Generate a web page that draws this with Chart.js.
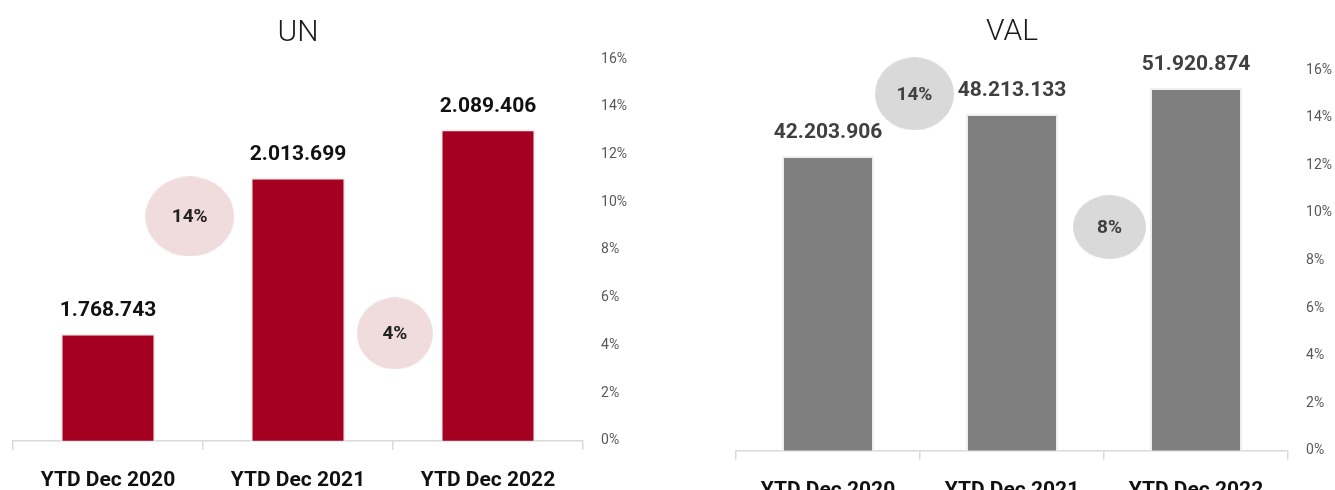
<!DOCTYPE html>
<html>
<head>
<meta charset="utf-8">
<script src="https://cdn.jsdelivr.net/npm/chart.js@4.4.0/dist/chart.umd.min.js"></script>
<style>
  html, body { margin: 0; padding: 0; background: #fff; overflow: hidden; }
  .box { position: absolute; top: 0; }
  #unBox { left: 0; width: 650px; height: 515px; }
  #valBox { left: 670px; width: 682px; height: 527px; }
</style>
</head>
<body>
<div class="box" id="unBox"><canvas id="unChart"></canvas></div>
<div class="box" id="valBox"><canvas id="valChart"></canvas></div>
<script>
const categories = ["YTD Dec 2020", "YTD Dec 2021", "YTD Dec 2022"];

const unValues = [1768743, 2013699, 2089406];
const valValues = [42203906, 48213133, 51920874];

// growth bubbles: label, position between bars, level on the % axis
const unGrowth = ["14%", "4%"];
const unGrowthX = [0.43, 1.51];
const unGrowthY = [9.4, 4.5];
const valGrowth = ["14%", "8%"];
const valGrowthX = [0.47, 1.53];
const valGrowthY = [15.0, 9.4];

const pctTicks = [0, 2, 4, 6, 8, 10, 12, 14, 16];

const FONT = "Roboto, 'Open Sans', sans-serif";

function fmt(n) {
  return n.toString().replace(/\B(?=(\d{3})+(?!\d))/g, ".");
}

function ellipse(w, h, color) {
  const c = document.createElement("canvas");
  c.width = w;
  c.height = h;
  const g = c.getContext("2d");
  g.fillStyle = color;
  g.beginPath();
  g.ellipse(w / 2, h / 2, w / 2, h / 2, 0, 0, Math.PI * 2);
  g.fill();
  return c;
}

const labelPlugin = {
  id: "labels",
  afterDatasetsDraw(chart, args, opts) {
    const ctx = chart.ctx;
    ctx.save();
    ctx.textAlign = "center";
    ctx.textBaseline = "middle";
    // values above the bars
    const bars = chart.getDatasetMeta(0).data;
    ctx.font = "bold 21px " + FONT;
    ctx.fillStyle = opts.valueColor;
    bars.forEach((b, i) => {
      ctx.fillText(fmt(chart.data.datasets[0].data[i]), b.x, b.y - 23);
    });
    // text inside the bubbles
    const pts = chart.getDatasetMeta(1).data;
    ctx.font = "bold 19px " + FONT;
    ctx.fillStyle = opts.bubbleColor;
    pts.forEach((p, i) => {
      ctx.fillText(opts.growth[i], p.x, p.y + 1);
    });
    ctx.restore();
  }
};

function makeChart(id, title, values, growth, gx, gy, o) {
  return new Chart(document.getElementById(id), {
    data: {
      labels: categories,
      datasets: [
        {
          type: "bar",
          data: values,
          backgroundColor: o.barColor,
          borderColor: "#efefef",
          borderWidth: 2,
          grouped: false,
          barPercentage: 0.5,
          categoryPercentage: 1,
          yAxisID: "y",
          order: 2
        },
        {
          type: "bubble",
          data: gx.map((x, i) => ({ x: x, y: gy[i], r: 1 })),
          pointStyle: o.bubbles,
          xAxisID: "xb",
          yAxisID: "yp",
          clip: false,
          order: 1
        }
      ]
    },
    options: {
      responsive: true,
      maintainAspectRatio: false,
      animation: false,
      layout: { autoPadding: false, padding: o.padding },
      plugins: {
        legend: { display: false },
        tooltip: { enabled: false },
        title: {
          display: true,
          text: title,
          fullSize: false,
          color: "#1a1a1a",
          font: { family: FONT, size: 30, weight: "300" },
          padding: o.titlePadding
        },
        labels: {
          valueColor: o.valueColor,
          bubbleColor: o.bubbleText,
          growth: growth
        }
      },
      scales: {
        x: {
          type: "category",
          offset: true,
          border: { display: true, color: "#d9d9d9", width: 1.5 },
          grid: {
            offset: true,
            drawOnChartArea: false,
            drawTicks: true,
            tickLength: 9,
            color: "#d9d9d9",
            lineWidth: 1.5
          },
          ticks: {
            color: "#111",
            padding: 18,
            font: { family: FONT, size: 21, weight: "bold" }
          }
        },
        xb: {
          type: "linear",
          display: false,
          min: -0.5,
          max: 2.5
        },
        y: {
          display: false,
          min: o.yMin,
          max: o.yMax
        },
        yp: {
          type: "linear",
          position: "right",
          min: 0,
          max: 16,
          border: { display: false },
          grid: { display: false, drawTicks: false },
          afterBuildTicks(axis) {
            axis.ticks = pctTicks.map(v => ({ value: v }));
          },
          ticks: {
            padding: 18,
            color: "#595959",
            font: { family: FONT, size: 14 },
            callback: v => v + "%"
          }
        }
      }
    },
    plugins: [labelPlugin]
  });
}

makeChart("unChart", "UN", unValues, unGrowth, unGrowthX, unGrowthY, {
  barColor: "#a50021",
  valueColor: "#111",
  bubbleText: "#222",
  bubbles: [ellipse(89, 80, "#f0dcdd"), ellipse(76, 72, "#f0dcdd")],
  yMin: 1600000,
  yMax: 2200000,
  padding: { left: 13, right: 5, top: 0, bottom: 4 },
  titlePadding: { top: 15, bottom: 8 }
});

makeChart("valChart", "VAL", valValues, valGrowth, valGrowthX, valGrowthY, {
  barColor: "#7f7f7f",
  valueColor: "#404040",
  bubbleText: "#404040",
  bubbles: [ellipse(79, 73, "#d9d9d9"), ellipse(73, 64, "#d9d9d9")],
  yMin: 0,
  yMax: 54500000,
  padding: { left: 66, right: 2, top: 0, bottom: 6 },
  titlePadding: { top: 14, bottom: 20 }
});
</script>
</body>
</html>
